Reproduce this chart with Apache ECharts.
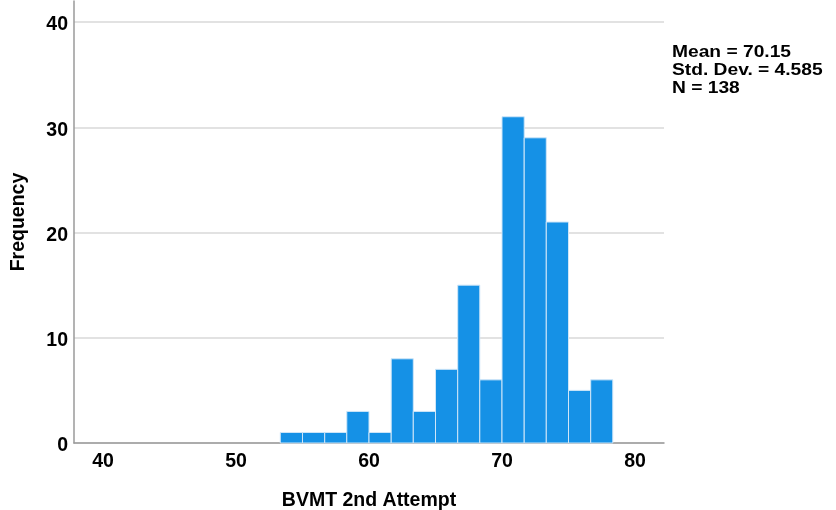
<!DOCTYPE html>
<html>
<head>
<meta charset="utf-8">
<script src="https://cdn.jsdelivr.net/npm/echarts@6/dist/echarts.min.js"></script>
<style>
html,body{margin:0;padding:0;background:#fff;}
#chart{width:836px;height:510px;}
</style>
</head>
<body>
<div id="chart"></div>
<script>
// Histogram bin edges (BVMT 2nd Attempt) and frequencies
var binEdges = [53.33, 55.00, 56.67, 58.33, 60.00, 61.67, 63.33, 65.00, 66.67, 68.33, 70.00, 71.67, 73.33, 75.00, 76.67, 78.33];
var frequencies = [1, 1, 1, 3, 1, 8, 3, 7, 15, 6, 31, 29, 21, 5, 6];
var xTicks = [40, 50, 60, 70, 80];
var yTicks = [0, 10, 20, 30, 40];
var statsLines = ['Mean = 70.15', 'Std. Dev. = 4.585', 'N = 138'];
var xTitle = 'BVMT 2nd Attempt';
var yTitle = 'Frequency';

var histData = frequencies.map(function (f, i) { return [binEdges[i], binEdges[i + 1], f]; });

var font = 'Liberation Sans, Arial, sans-serif';
var fs = 19.5;
var chart = echarts.init(document.getElementById('chart'), null, { renderer: 'canvas' });
chart.setOption({
  animation: false,
  backgroundColor: '#ffffff',
  grid: { left: 74, right: 172, top: 1, bottom: 67, containLabel: false, outerBoundsMode: 'none' },
  xAxis: {
    type: 'value', min: 37.82, max: 82.18,
    name: xTitle, nameLocation: 'middle', nameGap: 48,
    nameTextStyle: { fontFamily: font, fontWeight: 'bold', fontSize: fs, color: '#000' },
    axisLine: { show: true, lineStyle: { color: '#9a9a9a', width: 1.5 } },
    axisTick: { show: false },
    splitLine: { show: false },
    axisLabel: {
      showMinLabel: false, showMaxLabel: false, margin: 9,
      fontFamily: font, fontWeight: 'bold', fontSize: fs, color: '#000',
      formatter: function (v) { return xTicks.indexOf(Math.round(v * 100) / 100) >= 0 ? String(v) : ''; }
    }
  },
  yAxis: {
    type: 'value', min: 0, max: 42,
    name: yTitle, nameLocation: 'middle', nameGap: 45, nameRotate: 90,
    nameTextStyle: { fontFamily: font, fontWeight: 'bold', fontSize: fs, color: '#000' },
    axisLine: { show: true, lineStyle: { color: '#9a9a9a', width: 1.5 } },
    axisTick: { show: false },
    splitLine: { show: true, lineStyle: { color: ['#d9d9d9', '#d9d9d9', '#d9d9d9', '#d9d9d9', '#d9d9d9', 'rgba(0,0,0,0)'], width: 1.5 } },
    axisLabel: {
      showMaxLabel: false, margin: 6,
      fontFamily: font, fontWeight: 'bold', fontSize: fs, color: '#000',
      formatter: function (v) { return yTicks.indexOf(v) >= 0 ? '{v|' + v + '}' : ''; },
      rich: { v: { padding: [6, 0, 0, 0], fontFamily: font, fontWeight: 'bold', fontSize: fs, color: '#000' } }
    }
  },
  graphic: [{
    type: 'text', x: 672, y: 44, scaleX: 1.2,
    style: { text: statsLines.join('\n'), font: 'bold 16px ' + font, fill: '#000', lineHeight: 18 }
  }],
  series: [{
    type: 'custom',
    data: histData,
    encode: { x: [0, 1], y: 2 },
    renderItem: function (params, api) {
      var p0 = api.coord([api.value(0), api.value(2)]);
      var p1 = api.coord([api.value(1), 0]);
      return {
        type: 'rect',
        shape: { x: p0[0], y: p0[1], width: p1[0] - p0[0], height: p1[1] - p0[1] },
        style: { fill: '#1591e6', stroke: '#cfe6f8', lineWidth: 1 }
      };
    }
  }]
});
</script>
</body>
</html>
